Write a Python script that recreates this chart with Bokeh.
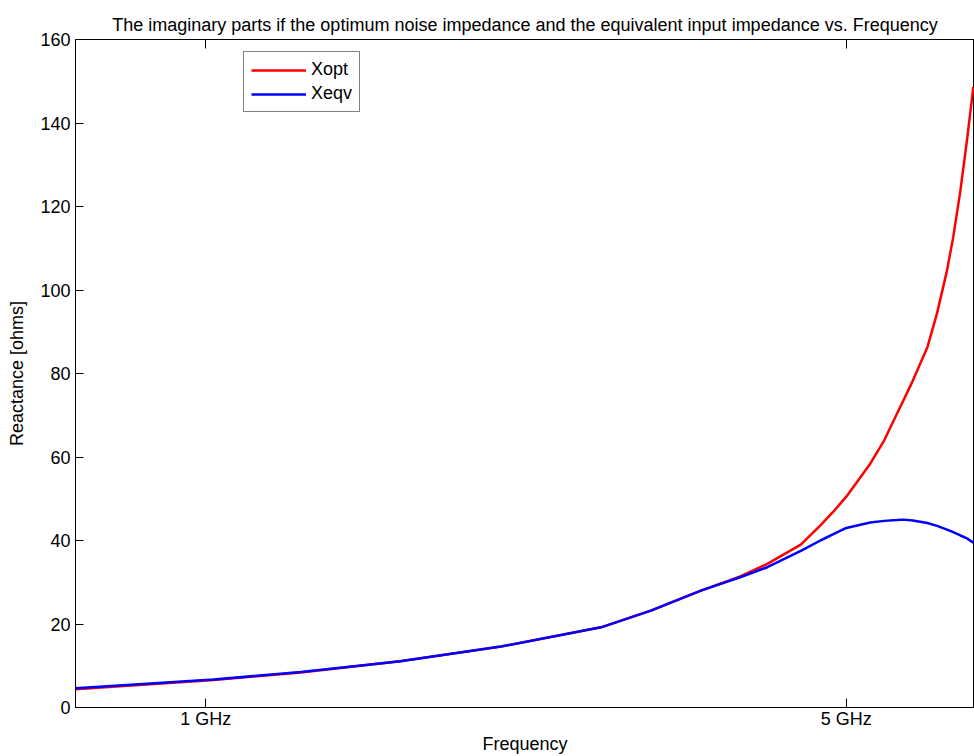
from bokeh.plotting import figure
from bokeh.models import FixedTicker, Legend, LegendItem, LinearAxis, Range1d
from bokeh.embed import file_html
from bokeh.resources import INLINE

# Frequency in GHz (log axis), reactance in ohms
freq_ghz = [0.721, 1.02, 1.27, 1.63, 2.10, 2.70, 3.06, 3.47, 3.83, 4.10, 4.46,
            4.685, 4.84, 5.0, 5.31, 5.50, 5.68, 5.77, 5.91, 6.13, 6.28, 6.44, 6.54,
            6.66, 6.77, 6.88]
x_opt = [4.4, 6.6, 8.4, 11.1, 14.6, 19.2, 23.2, 28.0, 31.4, 34.4, 39.0,
         43.6, 46.9, 50.5, 58.4, 64.0, 70.4, 73.5, 78.3, 86.3, 94.4, 104.7, 112.6,
         123.8, 135.8, 148.6]
x_eqv = [4.6, 6.7, 8.5, 11.1, 14.6, 19.2, 23.2, 28.0, 31.2, 33.6, 37.5,
         40.0, 41.5, 43.0, 44.3, 44.7, 44.9, 45.0, 44.8, 44.2, 43.5, 42.6, 42.0,
         41.2, 40.5, 39.5]
x_ticks = [1, 5]
x_tick_labels = {1: "1 GHz", 5: "5 GHz"}
y_ticks = [0, 20, 40, 60, 80, 100, 120, 140, 160]

FONT = "Liberation Sans"
FS = "18px"

p = figure(width=974, height=756, x_axis_type="log", output_backend="svg",
           toolbar_location=None, x_range=Range1d(0.721, 6.9), y_range=Range1d(0, 160),
           min_border_left=75, min_border_right=0, min_border_top=39, min_border_bottom=10)
p.title.text = "The imaginary parts if the optimum noise impedance and the equivalent input impedance vs. Frequency"
p.title.align = "center"
p.title.text_font = FONT
p.title.text_font_size = FS
p.title.text_font_style = "normal"
p.title.text_color = "black"

p.grid.visible = False
p.outline_line_color = "black"
p.outline_line_width = 1
p.background_fill_color = "white"
p.border_fill_color = "white"

xa = p.xaxis[0]
xa.ticker = FixedTicker(ticks=x_ticks)
xa.major_label_overrides = x_tick_labels
xa.minor_tick_line_color = None
xa.major_tick_in = 9
xa.major_tick_out = 0
xa.major_label_standoff = 1
xa.axis_label = "Frequency"
xa.axis_label_text_font_style = "normal"
xa.axis_label_standoff = 2

ya = p.yaxis[0]
ya.ticker = FixedTicker(ticks=y_ticks)
ya.minor_tick_line_color = None
ya.major_tick_in = 8
ya.major_tick_out = 0
ya.axis_label = "Reactance [ohms]"
ya.axis_label_text_font_style = "normal"
ya.axis_label_standoff = 10

for ax in (xa, ya):
    ax.axis_line_color = "black"
    ax.major_tick_line_color = "black"
    ax.major_label_text_font = FONT
    ax.major_label_text_font_size = FS
    ax.major_label_text_color = "black"
    ax.axis_label_text_font = FONT
    ax.axis_label_text_font_size = FS
    ax.axis_label_text_color = "black"

top = LinearAxis(ticker=FixedTicker(ticks=x_ticks), major_tick_in=9, major_tick_out=0,
                 minor_tick_line_color=None, major_label_overrides={1: "", 5: ""},
                 major_label_standoff=0, axis_line_color="black")
p.add_layout(top, "above")

r1 = p.line(freq_ghz, x_opt, line_color="#FF0000", line_width=2.5)
r2 = p.line(freq_ghz, x_eqv, line_color="#0000FF", line_width=2.5)

legend = Legend(items=[LegendItem(label="Xopt", renderers=[r1]),
                       LegendItem(label="Xeqv", renderers=[r2])],
                location=(168, 595), orientation="vertical",
                glyph_width=55, glyph_height=18, label_height=18, spacing=3,
                padding=7, margin=0,
                label_standoff=5, label_text_font=FONT, label_text_font_size=FS,
                label_text_color="black",
                border_line_color="black", border_line_width=1,
                background_fill_alpha=1.0)
p.add_layout(legend, "center")

open("out.html", "w").write(file_html(p, INLINE))
